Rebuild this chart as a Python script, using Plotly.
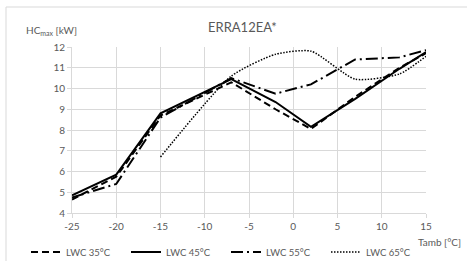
import plotly.graph_objects as go

tamb = [-25, -20, -15, -7, -2, 2, 7, 12, 15]
lwc35 = [4.65, 5.75, 8.7, 10.3, 9.0, 8.05, 9.6, 11.0, 11.7]
lwc45 = [4.85, 5.85, 8.8, 10.45, 9.35, 8.15, 9.5, 10.95, 11.75]
lwc55 = [4.75, 5.4, 8.6, 10.5, 9.75, 10.2, 11.4, 11.5, 11.85]
lwc65 = [None, None, 6.7, 10.6, 11.65, 11.8, 10.45, 10.7, 11.55]
names = ["LWC 35°C", "LWC 45°C", "LWC 55°C", "LWC 65°C"]
x_ticks = [-25, -20, -15, -10, -5, 0, 5, 10, 15]
x_labels = ["-25", "-20", "-15", "-10", "-5", "0", "5", "10", "15"]
y_ticks = [4, 5, 6, 7, 8, 9, 10, 11, 12]

FONT = "Lato, 'Open Sans', sans-serif"
GRAY = "#595959"

L, R, T, B = 72, 41, 47, 48
W, H = 467, 261
PW, PH = W - L - R, H - T - B


def px_x(px):
    return (px - L) / PW


def px_y(py):
    return (H - B - py) / PH


fig = go.Figure()
styles = [
    dict(width=2, dash="7px,4px"),
    dict(width=2, dash="solid"),
    dict(width=2, dash="12px,4px,2px,4px"),
    dict(width=1.5, dash="1.5px,1.5px"),
]
legend_ids = ["legend", "legend2", "legend3", "legend4"]
for name, ys, st, lg in zip(names, [lwc35, lwc45, lwc55, lwc65], styles, legend_ids):
    fig.add_trace(go.Scatter(
        x=tamb, y=ys, name=name, mode="lines", legend=lg,
        line=dict(color="black", width=st["width"], dash=st["dash"],
                  shape="spline" if name == "LWC 65°C" else "linear",
                  smoothing=0.6),
        connectgaps=False,
    ))

legend_common = dict(orientation="h", xanchor="left", yanchor="middle",
                     font=dict(family=FONT, size=9.5, color=GRAY),
                     bgcolor="rgba(0,0,0,0)", borderwidth=0)
legend_x = [26, 126, 226, 326]
layout_legends = {}
for lg, lx in zip(legend_ids, legend_x):
    layout_legends[lg] = dict(legend_common, x=px_x(lx), y=px_y(252))

fig.update_layout(
    width=W, height=H,
    margin=dict(l=L, r=R, t=T, b=B, autoexpand=False),
    paper_bgcolor="white", plot_bgcolor="white",
    font=dict(family=FONT, size=10, color=GRAY),
    showlegend=True,
    **layout_legends,
    xaxis=dict(range=[-25, 15], tickvals=x_ticks, ticktext=x_labels, showgrid=True,
               gridcolor="#d9d9d9", gridwidth=1, zeroline=False, showline=True,
               linecolor="#d9d9d9", ticks="outside", ticklen=4, tickcolor="#d9d9d9",
               tickfont=dict(family=FONT, size=10, color=GRAY)),
    yaxis=dict(range=[4, 12], tickvals=y_ticks, showgrid=True, gridcolor="#d9d9d9",
               gridwidth=1, zeroline=False, showline=True, linecolor="#d9d9d9",
               ticks="outside", ticklen=4, tickcolor="#d9d9d9",
               tickfont=dict(family=FONT, size=10, color=GRAY)),
    shapes=[dict(type="rect", xref="paper", yref="paper", x0=px_x(6), x1=px_x(520),
                 y0=px_y(320), y1=px_y(7), line=dict(color="#d9d9d9", width=1),
                 layer="below")],
    annotations=[
        dict(text="ERRA12EA*", xref="paper", yref="paper", x=px_x(242), y=px_y(27),
             xanchor="center", yanchor="middle", showarrow=False,
             font=dict(family=FONT, size=13, color=GRAY)),
        dict(text="HC<sub>max</sub> [kW]", xref="paper", yref="paper", x=px_x(24),
             y=px_y(31), xanchor="left", yanchor="middle", showarrow=False,
             font=dict(family=FONT, size=10, color=GRAY)),
        dict(text="Tamb [°C]", xref="paper", yref="paper", x=px_x(463), y=px_y(242),
             xanchor="right", yanchor="middle", showarrow=False,
             font=dict(family=FONT, size=10, color=GRAY)),
    ],
)

fig.write_html("out.html", config={"displayModeBar": False},
               post_script="document.body.style.margin='0';document.body.style.overflow='hidden';")
